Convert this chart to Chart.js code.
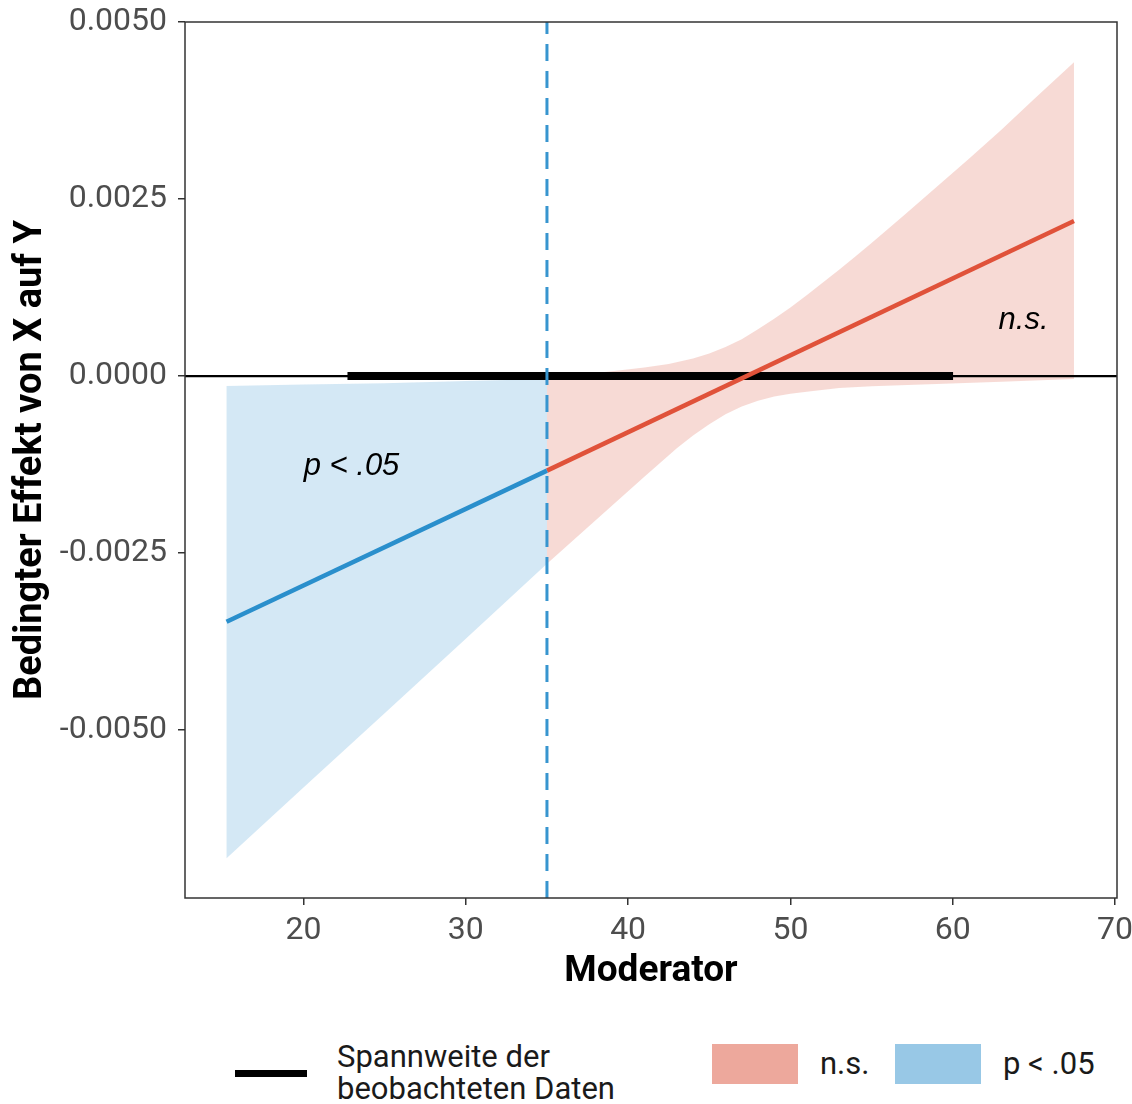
<!DOCTYPE html>
<html>
<head>
<meta charset="utf-8">
<script src="https://cdn.jsdelivr.net/npm/chart.js"></script>
<style>
  body { margin: 0; background: #fff; }
  #wrap { position: relative; width: 1132px; height: 1104px; font-family: Roboto, sans-serif; }
  #plot { position: absolute; left: 0; top: 0; }
  .leg { position: absolute; color: #1a1a1a; font-size: 31px; }
  .swatch { position: absolute; }
</style>
</head>
<body>
<div id="wrap">
  <canvas id="plot" width="1132" height="1000"></canvas>
  <div class="swatch" style="left:235px;top:1070px;width:72px;height:7px;background:#000"></div>
  <div class="leg" style="left:337px;top:1041px;line-height:32px">Spannweite der<br>beobachteten Daten</div>
  <div class="swatch" style="left:712px;top:1044px;width:86px;height:40px;background:#eda89c"></div>
  <div class="leg" style="left:820px;top:1044px;line-height:40px">n.s.</div>
  <div class="swatch" style="left:895px;top:1044px;width:86px;height:40px;background:#98c8e6"></div>
  <div class="leg" style="left:1003px;top:1044px;line-height:40px">p &lt; .05</div>
</div>
<script>
// Johnson-Neyman plot: conditional effect of X on Y across the moderator
// values

const rangeX = [22.71, 60.02];     // observed range of the moderator
const jnPoint = 35.0;               // significance boundary

// p < .05 region
const sigX = [15.26, 35.0];
const sigEffect = [-0.00347, -0.001335];
const sigBandX = [15.26, 20, 25, 30, 35.0];
const sigUpper = [-0.00014, -0.00012, -0.00010, -0.00007, -0.00004];
const sigLower = [-0.00681, -0.00581, -0.00476, -0.00371, -0.00265];

// n.s. region
const nsX = [35.0, 67.47];
const nsEffect = [-0.001335, 0.00219];
const nsUpperX = [35.0, 37, 39, 41, 42.5, 44, 45, 46, 47, 48, 49, 50, 51, 52, 53, 54, 55, 57, 59, 61, 63, 65, 67.47];
const nsUpper = [-0.00004, 0.00002, 0.00007, 0.00012, 0.00017, 0.00025, 0.00032, 0.00041, 0.00052, 0.00066, 0.00081, 0.00097,
                 0.00114, 0.00132, 0.00150, 0.00169, 0.00188, 0.00227, 0.00267, 0.00307, 0.00348, 0.00391, 0.00443];
const nsLowerX = [35.0, 37, 39, 41, 42, 43, 44, 45, 46, 47, 48, 49, 50, 51, 53, 55, 59, 63, 67.47];
const nsLower = [-0.00265, -0.00224, -0.00183, -0.00142, -0.00122, -0.00102, -0.00084, -0.00068, -0.00054, -0.00043,
                 -0.00035, -0.00029, -0.00025, -0.00022, -0.00017, -0.000145, -0.000112, -0.00008, -0.00004];

const xTicks = [20, 30, 40, 50, 60, 70];
const yTicks = [-0.005, -0.0025, 0, 0.0025, 0.005];
const xLimits = [12.7, 70.12];
const yLimits = [-0.00737, 0.0050];

const noteText = ['p < .05', 'n.s.'];
const noteX = [22.96, 64.36];
const noteY = [-0.00127, 0.00078];

const toPts = (xs, ys) => xs.map((x, i) => ({ x: x, y: ys[i] }));
const band = (ux, up, lx, lo) => toPts(ux, up).concat(toPts(lx, lo).reverse());

const overlay = {
    id: 'overlay',
    afterDatasetsDraw(chart) {
        const { ctx, scales: { x, y }, chartArea: a } = chart;
        ctx.save();
        ctx.font = 'italic 31px "Liberation Sans", Arial, sans-serif';
        ctx.fillStyle = '#000';
        ctx.textAlign = 'center';
        ctx.textBaseline = 'middle';
        noteText.forEach((t, i) => ctx.fillText(t, x.getPixelForValue(noteX[i]), y.getPixelForValue(noteY[i])));
        // panel border
        ctx.strokeStyle = '#333';
        ctx.lineWidth = 1.5;
        ctx.strokeRect(a.left, a.top, a.right - a.left, a.bottom - a.top);
        ctx.restore();
    }
};

// first dataset is drawn on top
new Chart(document.getElementById('plot'), {
    type: 'line',
    data: {
        datasets: [
            {
                label: 'jn',
                data: toPts([jnPoint, jnPoint], yLimits),
                borderColor: '#3795cf', borderWidth: 3, borderDash: [17, 10]
            },
            {
                label: 'p < .05',
                data: toPts(sigX, sigEffect),
                borderColor: '#2a8fcc', borderWidth: 4.5
            },
            {
                label: 'n.s.',
                data: toPts(nsX, nsEffect),
                borderColor: '#e0523a', borderWidth: 4.5
            },
            {
                label: 'Spannweite der beobachteten Daten',
                data: toPts(rangeX, [0, 0]),
                borderColor: '#000', borderWidth: 8, borderCapStyle: 'butt'
            },
            {
                label: 'zero',
                data: toPts(xLimits, [0, 0]),
                borderColor: '#000', borderWidth: 2.2
            },
            {
                label: 'n.s. band',
                data: band(nsUpperX, nsUpper, nsLowerX, nsLower),
                borderWidth: 0, borderColor: 'rgba(0,0,0,0)',
                backgroundColor: 'rgba(237,168,156,0.42)', fill: 'shape'
            },
            {
                label: 'p < .05 band',
                data: band(sigBandX, sigUpper, sigBandX, sigLower),
                borderWidth: 0, borderColor: 'rgba(0,0,0,0)',
                backgroundColor: 'rgba(152,200,230,0.42)', fill: 'shape'
            }
        ]
    },
    options: {
        responsive: false,
        animation: false,
        layout: { padding: { top: 22, right: 15, left: 0, bottom: 0 } },
        elements: { point: { radius: 0, hoverRadius: 0 }, line: { tension: 0 } },
        plugins: { legend: { display: false }, tooltip: { enabled: false } },
        scales: {
            x: {
                type: 'linear',
                min: xLimits[0], max: xLimits[1],
                afterBuildTicks: s => { s.ticks = xTicks.map(v => ({ value: v })); },
                afterFit: s => { s.height = 102; s.paddingLeft = 0; s.paddingRight = 0; },
                border: { display: false },
                grid: { drawOnChartArea: false, tickLength: 7, color: '#333', lineWidth: 1.5 },
                ticks: {
                    autoSkip: false, maxRotation: 0, padding: 7,
                    color: '#4d4d4d', font: { family: 'Roboto', size: 32 },
                    callback: v => String(v)
                },
                title: {
                    display: true, text: 'Moderator', color: '#000',
                    font: { family: 'Roboto', size: 37, weight: 'bold' },
                    padding: { top: 0, bottom: 6 }
                }
            },
            y: {
                type: 'linear',
                min: yLimits[0], max: yLimits[1],
                afterBuildTicks: s => { s.ticks = yTicks.map(v => ({ value: v })); },
                afterFit: s => { s.width = 185; s.paddingTop = 0; s.paddingBottom = 0; },
                border: { display: false },
                grid: { drawOnChartArea: false, tickLength: 7, color: '#333', lineWidth: 1.5 },
                ticks: {
                    autoSkip: false, padding: 11,
                    color: '#4d4d4d', font: { family: 'Roboto', size: 32 },
                    callback: v => Number(v).toFixed(4)
                },
                title: {
                    display: true, text: 'Bedingter Effekt von X auf Y', color: '#000',
                    font: { family: 'Roboto', size: 38, weight: 'bold' },
                    padding: { top: 9, bottom: 0 }
                }
            }
        }
    },
    plugins: [overlay]
});
</script>
</body>
</html>
